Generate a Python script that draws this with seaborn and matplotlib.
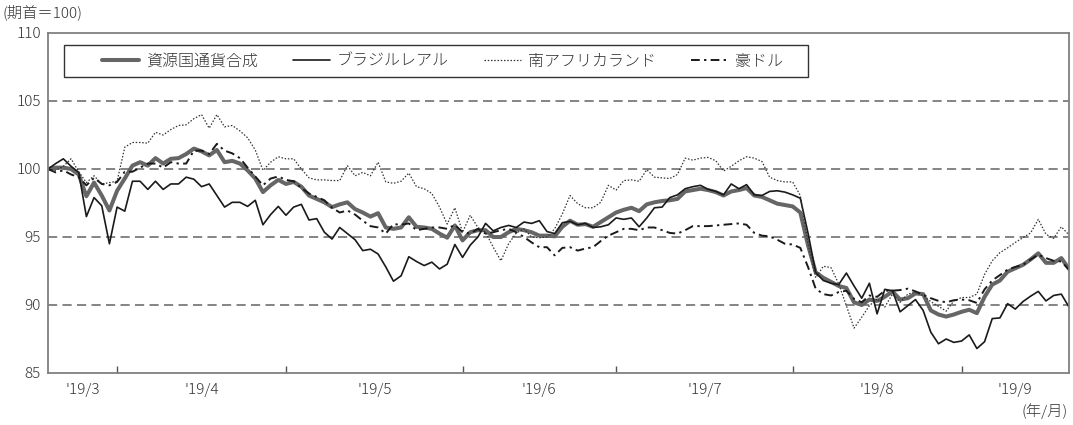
import pandas as pd
import seaborn as sns
import matplotlib.pyplot as plt
from matplotlib.patches import Rectangle

# business days, 2019-03-19 .. 2019-09-20 (index = 100 at start)
dates = pd.bdate_range("2019-03-19", "2019-09-20")
month_labels = ["'19/3", "'19/4", "'19/5", "'19/6", "'19/7", "'19/8", "'19/9"]
series_names = ["資源国通貨合成", "ブラジルレアル", "南アフリカランド", "豪ドル"]

composite = [
    100.0, 100.1, 100.1, 100.0, 99.6, 98.0, 99.0, 98.05, 96.95, 98.4,
    99.3, 100.25, 100.5, 100.25, 100.8, 100.4, 100.75, 100.8, 101.1, 101.5,
    101.3, 101.0, 101.4, 100.5, 100.6, 100.4, 99.9, 99.3, 98.3, 98.8,
    99.2, 98.9, 99.05, 98.7, 98.05, 97.8, 97.55, 97.2, 97.4, 97.55,
    97.05, 96.8, 96.5, 96.75, 95.7, 95.6, 95.7, 96.45, 95.75, 95.7,
    95.6, 95.25, 94.95, 95.85, 94.75, 95.35, 95.5, 95.5, 95.0, 95.0,
    95.35, 95.6, 95.5, 95.35, 95.1, 95.1, 95.05, 95.75, 96.2, 95.9,
    95.95, 95.75, 96.1, 96.45, 96.8, 97.0, 97.15, 96.9, 97.4, 97.55,
    97.65, 97.7, 97.8, 98.35, 98.45, 98.55, 98.45, 98.3, 98.05, 98.35,
    98.45, 98.6, 98.05, 97.95, 97.7, 97.45, 97.35, 97.25, 96.8, 94.4,
    92.4, 92.0, 91.7, 91.4, 91.25, 90.2, 90.0, 90.4, 90.3, 90.6,
    91.0, 90.4, 90.5, 90.85, 90.8, 89.6, 89.3, 89.15, 89.3, 89.5,
    89.65, 89.4, 90.6, 91.5, 91.8, 92.45, 92.7, 92.95, 93.35, 93.8,
    93.1, 93.1, 93.45, 92.65,
]
brazil = [
    100.0, 100.4, 100.75, 100.2, 99.75, 96.5, 97.9, 97.3, 94.5, 97.2,
    96.9, 99.1, 99.1, 98.5, 99.1, 98.5, 98.9, 98.9, 99.4, 99.25,
    98.7, 98.9, 98.05, 97.2, 97.55, 97.55, 97.25, 97.7, 95.9, 96.65,
    97.25, 96.6, 97.2, 97.4, 96.25, 96.35, 95.35, 94.85, 95.7, 95.25,
    94.8, 94.0, 94.1, 93.75, 92.8, 91.75, 92.15, 93.55, 93.2, 92.9,
    93.15, 92.65, 93.0, 94.45, 93.5, 94.4, 95.0, 96.0, 95.45, 95.7,
    95.85, 95.7, 96.1, 96.0, 96.2, 95.4, 95.25, 96.05, 96.15, 95.9,
    96.0, 95.7, 95.75, 95.9, 96.4, 96.3, 96.4, 95.75, 96.4, 97.15,
    97.2, 97.9, 98.1, 98.55, 98.7, 98.8, 98.5, 98.35, 98.1, 98.9,
    98.55, 98.85, 98.1, 98.05, 98.35, 98.4, 98.3, 98.1, 97.85, 95.3,
    92.4, 91.8, 91.6, 91.5, 92.35, 91.4, 90.5, 91.6, 89.35, 91.15,
    91.05, 89.5, 89.95, 90.4, 89.6, 88.0, 87.15, 87.5, 87.25, 87.35,
    87.8, 86.8, 87.3, 89.0, 89.05, 90.1, 89.7, 90.25, 90.65, 91.0,
    90.3, 90.7, 90.8, 89.85,
]
rand = [
    100.0, 99.9, 100.2, 100.75, 99.8, 99.0, 99.5, 98.9, 99.0, 99.1,
    101.6, 101.95, 101.95, 101.9, 102.7, 102.5, 102.9, 103.2, 103.25, 103.7,
    104.0, 103.0, 104.0, 103.1, 103.2, 102.8, 102.3, 101.4, 99.9, 100.5,
    100.9, 100.75, 100.75, 100.0, 99.35, 99.2, 99.2, 99.15, 99.15, 100.25,
    99.5, 99.75, 99.5, 100.5, 99.05, 98.95, 99.1, 99.7, 98.7, 98.55,
    98.2, 97.2, 95.95, 97.15, 95.35, 96.6, 95.7, 95.35, 94.25, 93.25,
    94.5, 95.3, 95.6, 95.0, 94.95, 95.0, 95.6, 96.7, 98.05, 97.45,
    97.15, 97.15, 97.55, 98.8, 98.45, 99.15, 99.2, 99.1, 99.95, 99.4,
    99.35, 99.3, 99.6, 100.8, 100.65, 100.8, 100.85, 100.6, 99.85, 100.2,
    100.6, 100.9, 100.8, 100.55, 99.4, 99.15, 99.05, 99.05, 98.05, 94.5,
    92.0, 92.85, 92.75, 91.55, 89.95, 88.3, 89.1, 89.95, 90.45, 89.85,
    90.8, 90.2, 90.8, 90.95, 90.7, 90.25, 89.9, 89.55, 90.3, 90.55,
    90.55, 90.8, 92.25, 93.25, 93.85, 94.2, 94.6, 94.95, 95.3, 96.3,
    95.2, 94.9, 95.75, 95.15,
]
aud = [
    100.0, 99.75, 99.9, 99.6, 99.4, 98.8, 99.35, 98.9, 98.8, 99.05,
    99.8, 99.8, 100.1, 100.4, 100.4, 100.1, 100.5, 100.4, 100.4, 101.35,
    101.35, 101.1, 101.85, 101.35, 101.15, 100.8, 100.1, 99.45, 98.8, 99.3,
    99.45, 99.2, 99.1, 98.6, 98.2, 97.95, 97.7, 97.15, 96.8, 96.95,
    96.65, 96.2, 95.8, 95.7, 95.25, 95.95, 95.9, 96.0, 95.5, 95.6,
    95.7, 95.7, 95.6, 95.9, 95.35, 95.25, 95.6, 95.25, 95.35, 95.5,
    95.6, 95.35, 95.0, 94.6, 94.25, 94.25, 93.65, 94.2, 94.25, 94.0,
    94.15, 94.25, 94.7, 95.1, 95.35, 95.6, 95.6, 95.5, 95.7, 95.7,
    95.5, 95.3, 95.25, 95.5, 95.8, 95.8, 95.8, 95.85, 95.9, 95.95,
    96.0, 95.9, 95.3, 95.1, 95.05, 94.8, 94.5, 94.45, 94.2, 92.8,
    91.2, 90.8, 90.7, 90.95, 91.05, 90.45, 90.2, 90.7, 90.6, 91.05,
    91.05, 91.1, 91.2, 91.0, 90.75, 90.5, 90.3, 90.2, 90.35, 90.4,
    90.35, 90.15, 91.15, 91.8, 92.2, 92.6, 92.8, 92.95, 93.35, 93.7,
    93.45, 93.25, 93.2, 92.6,
]

df = pd.DataFrame({
    "day": range(len(dates)),
    "composite": composite,
    "brazil": brazil,
    "rand": rand,
    "aud": aud,
})

# month boundaries (first business day of each month) and label centres
bounds = [i for i in range(1, len(dates)) if dates[i].month != dates[i - 1].month]
edges = [0] + bounds + [len(dates) - 1]
mids = [(edges[k] + edges[k + 1]) / 2 for k in range(len(edges) - 1)]

sns.set_theme(style="white")
plt.rcParams["font.family"] = ["Noto Sans CJK JP", "DejaVu Sans"]
plt.rcParams["font.weight"] = "light"

fig = plt.figure(figsize=(10.73, 4.25), dpi=100)
ax = fig.add_axes([48 / 1073, 1 - 373 / 425, 1021 / 1073, 340 / 425])

for yv in [90, 95, 100, 105]:
    ax.axhline(yv, color="#707070", lw=1.2, linestyle=(0, (5.5, 3.2)), zorder=0)

sns.lineplot(data=df, x="day", y="composite", ax=ax, color="#666666", lw=2.9,
             legend=False, label=series_names[0])
sns.lineplot(data=df, x="day", y="brazil", ax=ax, color="#1a1a1a", lw=1.2,
             legend=False, label=series_names[1])
sns.lineplot(data=df, x="day", y="rand", ax=ax, color="#333333", lw=0.9,
             linestyle=(0, (1.2, 1.4)), legend=False, label=series_names[2])
sns.lineplot(data=df, x="day", y="aud", ax=ax, color="#1a1a1a", lw=1.4,
             linestyle=(0, (4.5, 2.2, 1.2, 2.2)), legend=False, label=series_names[3])

ax.set_xlim(0, len(dates) - 1)
ax.set_ylim(85, 110)
ax.set_yticks([85, 90, 95, 100, 105, 110])
ax.set_xticks(bounds)
ax.set_xticklabels([])
ax.set_xticks(mids, minor=True)
ax.set_xticklabels(month_labels, minor=True)
ax.set_xlabel("")
ax.set_ylabel("")

ax.tick_params(axis="x", which="major", direction="in", length=5, width=1,
               color="#555555", bottom=True)
ax.tick_params(axis="x", which="minor", length=0, pad=7, labelsize=11,
               labelcolor="#333333", bottom=True)
ax.tick_params(axis="y", length=0, pad=5, labelsize=11, labelcolor="#333333")

for s in ax.spines.values():
    s.set_color("#808080")
    s.set_linewidth(1.3)

handles, labels = ax.get_legend_handles_labels()
ax.legend(handles, labels, ncol=4, frameon=False, loc="center left",
          bbox_to_anchor=(94 / 1073, 1 - 61 / 425), bbox_transform=fig.transFigure,
          fontsize=11.5, handlelength=2.3, handletextpad=0.45, columnspacing=2.2,
          borderpad=0, labelcolor="#333333")
fig.add_artist(Rectangle((64 / 1073, 1 - 77 / 425), 744 / 1073, 32 / 425,
                         transform=fig.transFigure, fill=False,
                         edgecolor="#333333", lw=1.0))

fig.text(3 / 1073, 1 - 12 / 425, "(期首＝100)", ha="left", va="center",
         fontsize=11, color="#333333")
fig.text(1068 / 1073, 1 - 411 / 425, "(年/月)", ha="right", va="center",
         fontsize=11, color="#333333")

fig.savefig("out.png", dpi=100)
